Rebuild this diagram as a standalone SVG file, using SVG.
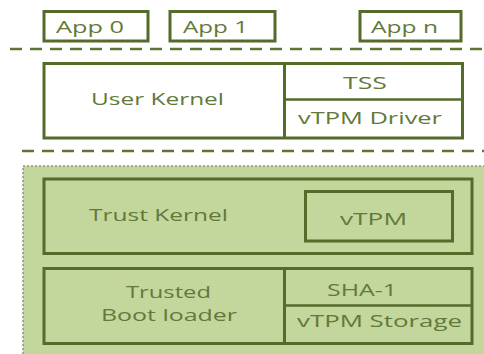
<svg xmlns="http://www.w3.org/2000/svg" width="484" height="354" viewBox="0 0 484 354">
  <style>
    .box { fill: none; stroke: #556b2a; stroke-width: 3; }
    .div { fill: none; stroke: #556b2a; stroke-width: 2.5; }
    .sep { fill: none; stroke: #5f7535; stroke-width: 2.5; stroke-dasharray: 12 8; }
    .lbl { font-family: "Open Sans", "Liberation Sans", sans-serif; font-size: 17px; fill: #627939; }
  </style>

  <!-- secure world background -->
  <rect id="secure-world" x="23" y="166" width="470" height="200" fill="#c3d69b" stroke="#8c9a78" stroke-width="1.5" stroke-dasharray="2 2"/>

  <!-- layer separators -->
  <g id="separators">
    <line class="sep" x1="10" y1="49" x2="484" y2="49"/>
    <line class="sep" x1="22" y1="151" x2="484" y2="151"/>
  </g>

  <!-- applications -->
  <g id="app0">
    <rect class="box" x="44" y="11.5" width="104" height="29.5"/>
    <text class="lbl" x="56" y="32.5" textLength="68" lengthAdjust="spacingAndGlyphs">App 0</text>
  </g>
  <g id="app1">
    <rect class="box" x="170" y="11.5" width="105" height="29.5"/>
    <text class="lbl" x="183" y="32.5" textLength="65" lengthAdjust="spacingAndGlyphs">App 1</text>
  </g>
  <g id="appn">
    <rect class="box" x="360" y="11.5" width="101" height="29.5"/>
    <text class="lbl" x="371" y="32.5" textLength="67" lengthAdjust="spacingAndGlyphs">App n</text>
  </g>

  <!-- normal world kernel -->
  <g id="user-kernel">
    <rect class="box" x="44" y="63.5" width="418.5" height="74.5"/>
    <line class="box" x1="284.5" y1="63.5" x2="284.5" y2="138"/>
    <line class="div" x1="284.5" y1="99.5" x2="462.5" y2="99.5"/>
    <text class="lbl" x="91" y="105" textLength="133" lengthAdjust="spacingAndGlyphs">User Kernel</text>
  </g>
  <g id="tss">
    <text class="lbl" x="343" y="89" textLength="44" lengthAdjust="spacingAndGlyphs">TSS</text>
  </g>
  <g id="vtpm-driver">
    <text class="lbl" x="298" y="124" textLength="144" lengthAdjust="spacingAndGlyphs">vTPM Driver</text>
  </g>

  <!-- secure world kernel -->
  <g id="trust-kernel">
    <rect class="box" x="44" y="179" width="428" height="74.5"/>
    <text class="lbl" x="89" y="221" textLength="139" lengthAdjust="spacingAndGlyphs">Trust Kernel</text>
  </g>
  <g id="vtpm">
    <rect class="box" x="305.5" y="191.5" width="147" height="49.5"/>
    <text class="lbl" x="340" y="225" textLength="67" lengthAdjust="spacingAndGlyphs">vTPM</text>
  </g>

  <!-- boot loader -->
  <g id="boot-loader">
    <rect class="box" x="44" y="268.5" width="428" height="75"/>
    <line class="box" x1="284.5" y1="268.5" x2="284.5" y2="343.5"/>
    <line class="div" x1="284.5" y1="305.5" x2="472" y2="305.5"/>
    <text class="lbl" x="126" y="298" textLength="85" lengthAdjust="spacingAndGlyphs">Trusted</text>
    <text class="lbl" x="101" y="321" textLength="136" lengthAdjust="spacingAndGlyphs">Boot loader</text>
  </g>
  <g id="sha1">
    <text class="lbl" x="327" y="296" textLength="70" lengthAdjust="spacingAndGlyphs">SHA-1</text>
  </g>
  <g id="vtpm-storage">
    <text class="lbl" x="297" y="327" textLength="165" lengthAdjust="spacingAndGlyphs">vTPM Storage</text>
  </g>
</svg>
